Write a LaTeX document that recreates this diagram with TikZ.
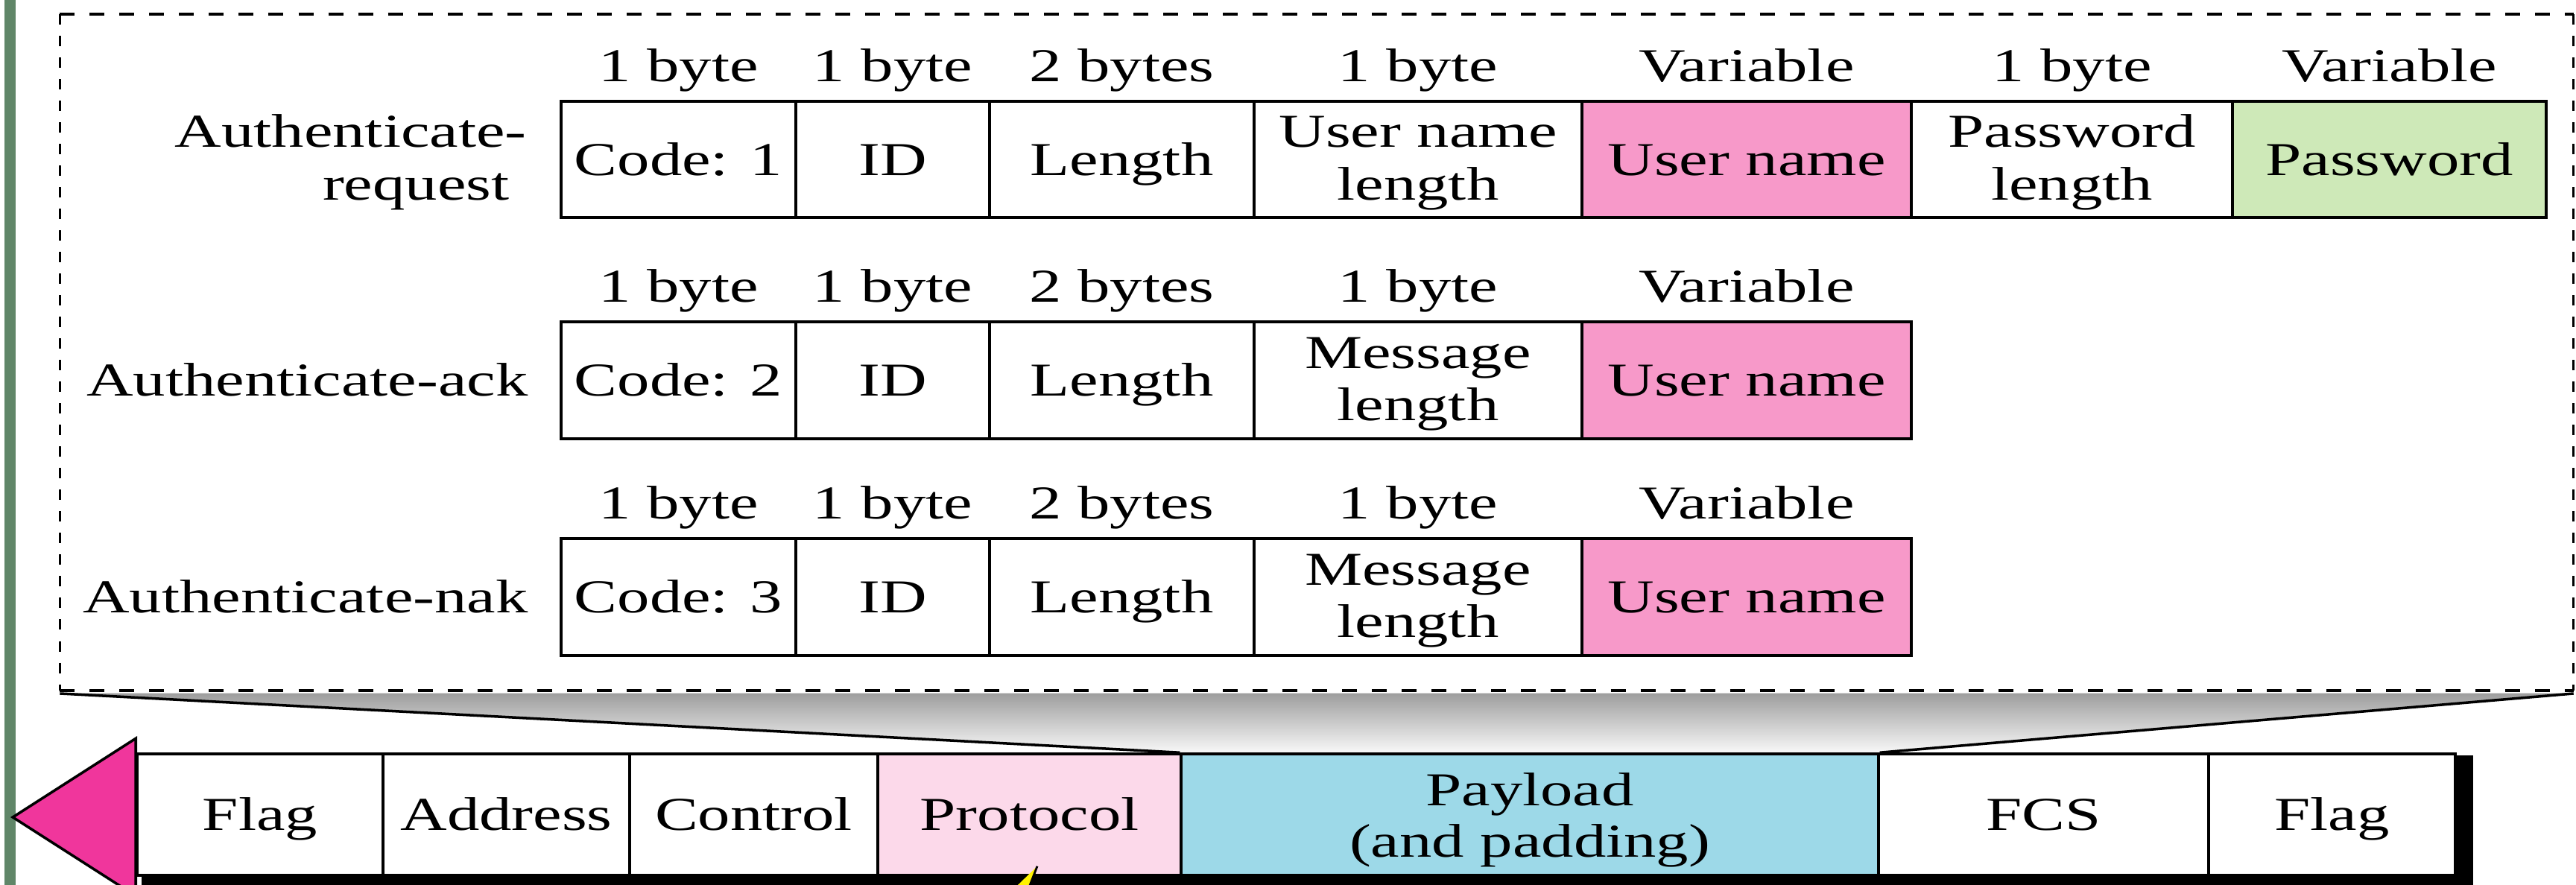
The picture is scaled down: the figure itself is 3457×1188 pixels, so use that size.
\documentclass[tikz,border=0pt]{standalone}
\usepackage{fontspec}
\setmainfont{Liberation Serif}[FakeStretch=1.37]
\usetikzlibrary{calc}

\definecolor{sidebar}{RGB}{96,134,104}
\definecolor{protoFill}{RGB}{252,217,234}
\definecolor{payFill}{RGB}{157,217,232}
\definecolor{userFill}{RGB}{247,153,201}
\definecolor{passFill}{RGB}{206,233,184}
\definecolor{arrowPink}{RGB}{240,54,156}
\definecolor{funnelTop}{RGB}{158,158,158}
\definecolor{funnelBot}{RGB}{248,248,248}

\pgfdeclarelayer{bg}
\pgfsetlayers{bg,main}

\tikzset{
  lbl/.style={font=\fontsize{18}{21}\selectfont, inner sep=0pt},
  cellbox/.style={lbl, draw=black, line width=1pt, text height=0.42cm, text depth=0pt},
  sizelbl/.style={lbl, anchor=base},
  rowlbl/.style={lbl, anchor=base east},
  hdash/.style={line width=1pt, dash pattern=on 0.2cm off 0.2cm},
  vdash/.style={line width=1pt, dash pattern=on 0.14cm off 0.15cm},
  edge/.style={line width=1pt},
}

% one field: name, x1, x2, y1, y2, fill, text
\newcommand\fld[7]{\node[cellbox, fill=#6, minimum width={(#3-#2)*0.01cm},
  minimum height={(#5-#4)*0.01cm}] (#1) at ({(#2+#3)/2},{(#4+#5)/2}) {#7};}
% size caption above a field
\newcommand\sz[3]{\node[sizelbl] (#1) at ([yshift=0.25cm]#2.north) {#3};}
% two-line caption inside a field
\newcommand\two[4]{%
  \node[lbl, anchor=base] (#2a) at ([yshift=0.16cm]#1.center) {#3};
  \node[lbl, anchor=base] (#2b) at ([yshift=-0.54cm]#1.center) {#4};}

\begin{document}
\begin{tikzpicture}[x=0.01cm, y=-0.01cm]
\useasboundingbox (0,0) rectangle (3457,1188);

% Authenticate-request
\fld{ra}{753}{1068}{136}{292}{white}{Code: 1}
\fld{rb}{1068}{1328}{136}{292}{white}{ID}
\fld{rc}{1328}{1683}{136}{292}{white}{Length}
\fld{rd}{1683}{2123}{136}{292}{white}{}
\fld{re}{2123}{2565}{136}{292}{userFill}{User name}
\fld{rf}{2565}{2996}{136}{292}{white}{}
\fld{rg}{2996}{3417}{136}{292}{passFill}{Password}
\two{rd}{rdt}{User name}{length}
\two{rf}{rft}{Password}{length}
\sz{rsa}{ra}{1 byte}
\sz{rsb}{rb}{1 byte}
\sz{rsc}{rc}{2 bytes}
\sz{rsd}{rd}{1 byte}
\sz{rse}{re}{Variable}
\sz{rsf}{rf}{1 byte}
\sz{rsg}{rg}{Variable}
\node[rowlbl] (reqA) at ([xshift=-0.44cm, yshift=0.16cm]ra.west) {Authenticate-};
\node[rowlbl] (reqB) at ([xshift=-0.67cm, yshift=-0.54cm]ra.west) {request};

% Authenticate-ack
\fld{aa}{753}{1068}{432}{589}{white}{Code: 2}
\fld{ab}{1068}{1328}{432}{589}{white}{ID}
\fld{ac}{1328}{1683}{432}{589}{white}{Length}
\fld{ad}{1683}{2123}{432}{589}{white}{}
\fld{ae}{2123}{2565}{432}{589}{userFill}{User name}
\two{ad}{adt}{Message}{length}
\sz{asa}{aa}{1 byte}
\sz{asb}{ab}{1 byte}
\sz{asc}{ac}{2 bytes}
\sz{asd}{ad}{1 byte}
\sz{ase}{ae}{Variable}
\node[rowlbl] (ackL) at ([xshift=-0.42cm, yshift=-0.21cm]aa.west) {Authenticate-ack};

% Authenticate-nak
\fld{na}{753}{1068}{723}{880}{white}{Code: 3}
\fld{nb}{1068}{1328}{723}{880}{white}{ID}
\fld{nc}{1328}{1683}{723}{880}{white}{Length}
\fld{nd}{1683}{2123}{723}{880}{white}{}
\fld{ne}{2123}{2565}{723}{880}{userFill}{User name}
\two{nd}{ndt}{Message}{length}
\sz{nsa}{na}{1 byte}
\sz{nsb}{nb}{1 byte}
\sz{nsc}{nc}{2 bytes}
\sz{nsd}{nd}{1 byte}
\sz{nse}{ne}{Variable}
\node[rowlbl] (nakL) at ([xshift=-0.42cm, yshift=-0.21cm]na.west) {Authenticate-nak};

% dashed enclosure of the packet formats
\node[inner sep=0pt, minimum width=33.70cm, minimum height=9.06cm] (detail) at (1767,473) {};
\draw[hdash] (detail.north west) -- (detail.north east)
             (detail.south west) -- (detail.south east);
\draw[vdash] (detail.north west) -- (detail.south west)
             (detail.north east) -- (detail.south east);

% PPP frame
\fld{f1}{184}{514}{1012}{1175}{white}{Flag}
\fld{f2}{514}{845}{1012}{1175}{white}{Address}
\fld{f3}{845}{1178}{1012}{1175}{white}{Control}
\fld{f4}{1178}{1585}{1012}{1175}{protoFill}{Protocol}
\fld{f5}{1585}{2521}{1012}{1175}{payFill}{}
\fld{f6}{2521}{2964}{1012}{1175}{white}{FCS}
\fld{f7}{2964}{3295}{1012}{1175}{white}{Flag}
\node[lbl, anchor=base] (payA) at ([yshift=0.12cm]f5.center) {Payload};
\node[lbl, anchor=base] (payB) at ([yshift=-0.565cm]f5.center) {(and padding)};

\begin{pgfonlayer}{bg}
  \fill[white] (0,0) rectangle (3457,1188);
  \fill[sidebar] (6,0) rectangle (21,1188);
  % funnel from the payload up to the enclosure
  \fill[top color=funnelTop, bottom color=funnelBot]
    ([yshift=-0.04cm]detail.south west) -- ([yshift=-0.04cm]detail.south east)
    -- (f5.north east) -- (f5.north west) -- cycle;
  \draw[edge] ([yshift=-0.04cm]detail.south west) -- (f5.north west);
  \draw[edge] ([yshift=-0.04cm]detail.south east) -- (f5.north east);
  % drop shadow of the frame
  \fill[black] ([xshift=0.08cm, yshift=-0.04cm]f1.north west)
    rectangle ([xshift=0.22cm, yshift=-0.24cm]f7.south east);
\end{pgfonlayer}

% direction arrowhead at the frame start
\draw[edge, fill=arrowPink] ([yshift=0.19cm]f1.north west)
  -- ([xshift=-1.65cm, yshift=-0.035cm]f1.west)
  -- ([yshift=-0.26cm]f1.south west) -- cycle;

% callout pointer into the protocol field
\coordinate (tipP) at ([xshift=0.105cm, yshift=0.14cm]f4.south);
\fill[yellow] (tipP) -- ([xshift=-0.32cm, yshift=-0.31cm]tipP) -- ([xshift=-0.12cm, yshift=-0.31cm]tipP) -- cycle;
\draw[line width=0.8pt] (tipP) -- ([xshift=-0.12cm, yshift=-0.31cm]tipP);
\end{tikzpicture}
\end{document}
